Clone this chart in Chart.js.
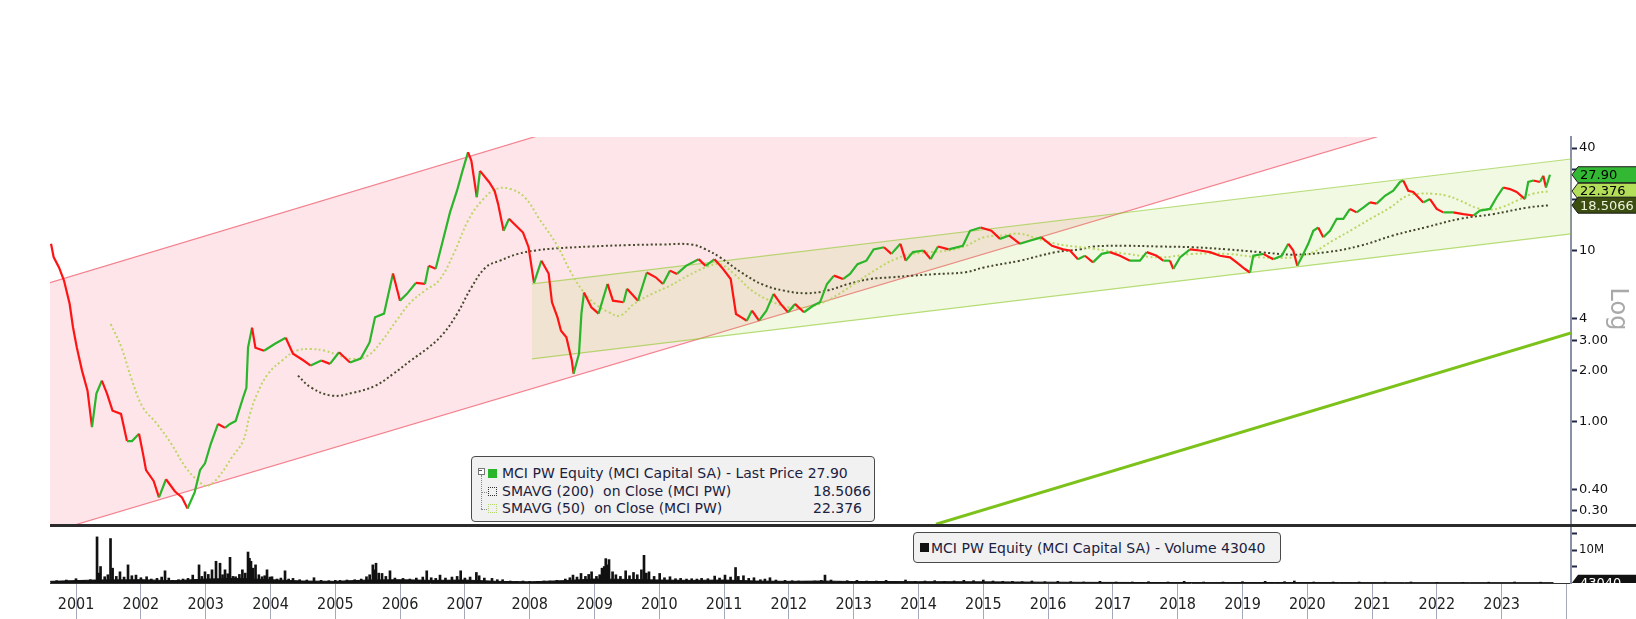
<!DOCTYPE html>
<html>
<head>
<meta charset="utf-8">
<script src="https://cdn.jsdelivr.net/npm/chart.js@4.4.1/dist/chart.umd.min.js"></script>
<style>
body { margin:0; background:#fff; width:1636px; height:619px; overflow:hidden; position:relative; font-family:"DejaVu Sans", sans-serif; }
#pc { position:absolute; left:0; top:0; }
#vc { position:absolute; left:0; top:527px; }
.lg { position:absolute; background:#f1f1f1; border:1px solid #4a4a4a; border-radius:4px; color:#1c2140; font-size:14px; box-sizing:border-box; }
.lg span { position:absolute; white-space:pre; line-height:16px; }
.sq { width:9px; height:9px; }
.dsq { width:7px; height:7px; border:1px dotted #333; }
</style>
</head>
<body>
<canvas id="pc" width="1636" height="527"></canvas>
<canvas id="vc" width="1636" height="92"></canvas>
<div id="lg1" class="lg" style="left:471px;top:456px;width:404px;height:66px"></div>
<div id="lg2" class="lg" style="left:913px;top:532px;width:368px;height:31px"></div>
<script>
// price (decimal years / close)
var priceYears = [2001.113,2001.153,2001.236,2001.313,2001.400,2001.452,2001.511,2001.591,2001.676,2001.745,2001.813,2001.897,2001.977,
  2002.062,2002.193,2002.285,2002.363,2002.471,2002.532,2002.579,2002.696,2002.779,2002.887,2003.026,2003.134,2003.219,2003.329,2003.412,
  2003.489,2003.577,2003.690,2003.798,2003.875,2003.963,2004.076,2004.128,2004.153,2004.215,2004.267,2004.400,2004.569,2004.735,2004.847,
  2005.011,2005.120,2005.285,2005.418,2005.557,2005.727,2005.892,2006.029,2006.113,2006.252,2006.390,2006.498,2006.606,2006.745,2006.884,
  2006.940,2007.049,2007.160,2007.270,2007.378,2007.463,2007.548,2007.600,2007.684,2007.733,2007.872,2007.958,2008.011,2008.097,2008.181,
  2008.258,2008.397,2008.483,2008.566,2008.681,2008.792,2008.844,2008.929,2008.983,2009.066,2009.150,2009.177,2009.261,2009.298,2009.338,
  2009.452,2009.563,2009.701,2009.785,2009.949,2010.002,2010.171,2010.307,2010.444,2010.557,2010.665,2010.773,2010.912,2011.106,2011.216,
  2011.353,2011.465,2011.602,2011.684,2011.767,2011.850,2011.931,2012.039,2012.153,2012.264,2012.373,2012.486,2012.594,2012.733,2012.872,
  2012.980,2013.088,2013.196,2013.335,2013.443,2013.559,2013.696,2013.807,2013.968,2014.082,2014.221,2014.302,2014.415,2014.579,2014.688,
  2014.801,2014.965,2015.185,2015.295,2015.460,2015.625,2015.758,2015.897,2016.066,2016.231,2016.397,2016.560,2016.730,2016.838,2016.961,
  2017.069,2017.193,2017.327,2017.455,2017.610,2017.764,2017.918,2018.022,2018.176,2018.278,2018.381,2018.432,2018.536,2018.690,2018.844,
  2018.998,2019.153,2019.307,2019.410,2019.539,2019.616,2019.667,2019.821,2019.975,2020.105,2020.207,2020.284,2020.346,2020.414,2020.515,
  2020.593,2020.670,2020.747,2020.850,2020.954,2021.056,2021.159,2021.262,2021.364,2021.468,2021.571,2021.699,2021.827,2021.931,2021.981,
  2022.059,2022.136,2022.213,2022.290,2022.394,2022.497,2022.599,2022.753,2022.907,2023.062,2023.165,2023.319,2023.423,2023.525,2023.628,
  2023.731,2023.860,2023.910,2023.988,2024.091,2024.142,2024.184,2024.245];
var priceClose = [11.0,9.2,8.0,6.7,4.9,3.57,2.72,1.99,1.52,0.93,1.46,1.74,1.46,
  1.16,1.11,0.77,0.77,0.85,0.65,0.52,0.45,0.36,0.46,0.39,0.36,0.31,0.385,0.52,
  0.57,0.74,0.97,0.92,0.97,1.01,1.38,1.58,2.71,3.55,2.71,2.6,2.86,3.1,2.5,
  2.28,2.13,2.28,2.18,2.55,2.22,2.34,2.91,4.08,4.29,7.36,5.11,5.6,6.5,6.4,
  8.17,7.86,11.5,16.8,22.5,29.4,37.8,33.7,20.6,29.4,25.3,22.5,18.9,13.1,15.4,
  14.4,12.8,10.5,6.5,8.76,7.36,5.0,4.08,3.41,3.12,2.28,1.91,2.5,4.29,5.7,
  4.67,4.29,6.4,5.11,5.0,6.0,5.11,7.47,7.0,6.4,7.66,7.33,8.17,8.94,8.17,
  8.94,8.0,6.84,4.27,4.08,3.9,4.47,3.9,4.47,5.6,4.89,4.37,4.89,4.37,4.77,
  5.0,6.4,7.16,6.84,7.33,8.36,8.76,10.2,10.5,9.6,11.0,8.76,9.83,10.05,8.94,
  10.6,10.2,10.7,13.1,13.7,13.1,11.75,12.3,11.0,11.5,12.0,10.7,10.2,10.05,8.94,
  9.36,8.56,9.6,9.83,9.36,8.76,8.76,9.83,9.36,8.76,8.76,7.83,9.16,10.2,10.05,
  9.83,9.36,9.16,8.56,7.83,7.47,9.36,9.6,8.94,9.36,11.0,10.05,8.17,9.16,11.0,
  13.1,13.7,12.0,13.1,15.4,15.4,17.6,16.8,17.9,19.2,18.9,21.0,22.5,25.3,25.8,
  22.5,22.1,20.6,19.2,20.1,17.6,16.8,16.8,16.4,16.1,17.2,17.6,20.6,23.5,23.0,
  22.1,20.1,25.3,25.8,25.3,27.5,23.5,27.9];

var sma50Years = [2002.034,2002.199,2002.363,2002.532,2002.748,2002.971,2003.191,2003.412,2003.520,2003.690,2003.906,2004.076,2004.184,
  2004.292,2004.460,2004.678,2004.900,2005.120,2005.341,2005.557,2005.782,2006.005,2006.221,2006.443,2006.664,2006.884,2007.100,2007.326,
  2007.548,2007.764,2007.986,2008.207,2008.427,2008.643,2008.921,2009.122,2009.315,2009.508,2009.724,2009.894,2010.110,2010.387,2010.665,
  2010.943,2011.216,2011.437,2011.653,2011.931,2012.208,2012.486,2012.759,2013.035,2013.310,2013.582,2013.860,2014.137,2014.415,2014.688,
  2014.965,2015.233,2015.511,2015.789,2016.066,2016.344,2016.617,2016.915,2017.193,2017.718,2018.227,2018.736,2019.261,2019.770,2020.279,
  2020.588,2020.897,2021.205,2021.514,2021.776,2022.039,2022.239,2022.440,2022.656,2022.857,2023.119,2023.319,2023.520,2023.736,2023.983,2024.245];
var sma50 = [3.73,2.72,1.74,1.21,0.97,0.74,0.54,0.44,0.42,0.47,0.62,0.77,1.11,
  1.45,1.90,2.28,2.6,2.66,2.6,2.44,2.33,2.44,2.98,3.9,5.0,5.85,6.7,9.6,
  15.0,19.7,23.0,23.0,20.5,15.5,10.8,7.66,5.85,4.89,4.37,4.17,4.89,5.6,6.25,
  7.16,8.0,8.36,7.33,5.85,5.11,4.67,4.67,5.0,5.7,6.7,7.83,8.94,9.6,9.83,
  10.05,10.7,12.0,12.3,12.6,11.75,11.0,10.6,10.3,9.6,9.16,9.6,9.6,9.16,9.16,
  9.83,11.5,13.4,15.7,17.9,21.0,21.6,21.6,21.0,19.7,17.8,17.4,18.1,19.7,21.6,22.376];

var sma200Years = [2004.924,2005.120,2005.449,2005.782,2006.113,2006.390,2006.664,2006.940,2007.162,2007.378,2007.600,2007.821,2008.042,
  2008.319,2008.593,2008.921,2009.446,2010.002,2010.557,2010.995,2011.216,2011.437,2011.767,2012.100,2012.424,2012.759,2013.088,2013.421,
  2013.752,2014.082,2014.415,2014.739,2015.233,2015.511,2016.066,2016.617,2016.992,2017.193,2017.718,2018.227,2018.736,2019.261,2019.770,
  2020.279,2020.804,2021.313,2021.823,2022.347,2022.857,2023.366,2023.890,2024.245];
var sma200 = [1.86,1.59,1.42,1.48,1.62,1.9,2.28,2.72,3.26,4.27,6.1,8.0,8.76,
  9.6,10.05,10.35,10.6,10.8,10.9,10.9,10.2,9.16,7.47,6.34,5.85,5.65,5.85,6.4,
  6.84,7.0,7.16,7.3,7.5,8.0,8.76,9.83,10.2,10.6,10.7,10.6,10.5,10.2,9.83,
  9.5,9.83,10.7,12.3,13.8,15.4,16.4,17.9,18.5066];

// trend channels: start and end of each line
var pinkYears = [2001.097, 2024.57];
var pinkUpper = [6.51, 3120];
var pinkLower = [0.225, 101.5];
var greenYears = [2008.535, 2024.57];
var greenUpper = [6.40, 34.5];
var greenLower = [2.33, 12.56];
var trendYears = [2014.77, 2024.57];
var trendLine = [0.251, 3.31];

var yTicks = [0.3, 0.4, 1, 2, 3, 4, 10, 20, 30, 40];
var yTickLabels = ["0.30", "0.40", "1.00", "2.00", "3.00", "4", "10", "", "", "40"];
var lastPrice = 27.90, lastSma50 = 22.376, lastSma200 = 18.5066;

var yearTicks = [2001,2002,2003,2004,2005,2006,2007,2008,2009,2010,2011,2012,2013,2014,2015,2016,2017,2018,2019,2020,2021,2022,2023,2024];
var xMin = 2001.097, xMax = 2024.57;

// volume in millions
var volYears = [2001.20,2001.35,2001.498,2001.62,2001.72,2001.823,2001.85,2001.877,2001.941,2001.99,2002.031,2002.063,2002.12,2002.177,
  2002.24,2002.301,2002.36,2002.424,2002.50,2002.588,2002.66,2002.748,2002.82,2002.872,2002.93,2002.992,2003.08,2003.15,2003.227,2003.30,
  2003.397,2003.44,2003.489,2003.54,2003.597,2003.659,2003.721,2003.76,2003.798,2003.84,2003.875,2003.92,2003.961,2004.02,2004.066,2004.11,
  2004.153,2004.175,2004.199,2004.23,2004.269,2004.32,2004.369,2004.41,2004.446,2004.49,2004.523,2004.60,2004.66,2004.724,2004.78,2004.847,
  2004.95,2005.06,2005.171,2005.28,2005.40,2005.50,2005.573,2005.68,2005.80,2005.90,2005.981,2006.03,2006.079,2006.10,2006.128,2006.17,
  2006.221,2006.28,2006.344,2006.42,2006.545,2006.65,2006.75,2006.85,2006.911,2006.98,2007.05,2007.116,2007.20,2007.30,2007.38,2007.435,
  2007.50,2007.58,2007.677,2007.72,2007.80,2007.918,2008.00,2008.082,2008.20,2008.30,2008.397,2008.50,2008.62,2008.72,2008.813,2008.92,
  2009.05,2009.12,2009.168,2009.23,2009.292,2009.36,2009.41,2009.455,2009.53,2009.58,2009.616,2009.65,2009.674,2009.70,2009.724,2009.779,
  2009.83,2009.90,2009.981,2010.04,2010.102,2010.16,2010.224,2010.264,2010.30,2010.341,2010.42,2010.506,2010.58,2010.665,2010.75,2010.829,
  2010.92,2011.00,2011.08,2011.153,2011.25,2011.355,2011.43,2011.514,2011.60,2011.677,2011.72,2011.799,2011.88,2011.961,2012.06,2012.13,
  2012.208,2012.30,2012.440,2012.55,2012.65,2012.764,2012.90,2013.00,2013.057,2013.15,2013.289,2013.40,2013.55,2013.70,2013.85,2014.00,
  2014.15,2014.30,2014.45,2014.60,2014.75,2014.90,2015.05,2015.20,2015.35,2015.50,2015.65,2015.80,2015.95,2016.10,2016.25,2016.45,2016.65,
  2016.85,2017.05,2017.30,2017.55,2017.80,2018.05,2018.35,2018.60,2018.90,2019.20,2019.50,2019.85,2020.15,2020.30,2020.60,2020.90,2021.30,
  2021.70,2022.10,2022.50,2022.90,2023.30,2023.70,2024.10];
var volValues = [0.7,0.9,1.3,0.8,1.0,14.0,3.0,5.0,1.9,2.5,13.5,4.5,2.0,3.4,
  1.8,5.5,2.2,2.4,1.6,1.9,1.2,1.4,1.8,3.7,1.5,0.8,1.0,1.2,1.4,2.4,
  5.5,2.0,3.4,2.6,4.0,6.6,6.0,2.5,4.0,2.8,7.8,2.0,1.9,2.6,4.0,3.0,
  9.4,7.5,6.6,4.5,5.5,2.5,1.9,2.2,4.0,1.8,1.9,1.2,1.5,3.7,1.2,1.4,
  1.0,0.9,1.6,0.8,0.7,0.8,0.8,0.9,1.0,1.2,1.9,2.5,5.5,4.0,6.0,3.0,
  2.9,2.0,3.7,1.5,1.4,1.2,1.5,1.8,3.7,1.6,1.4,2.4,1.5,1.8,2.0,3.7,
  1.5,1.8,3.2,2.2,1.5,1.4,1.0,1.0,0.6,0.5,0.6,0.5,0.5,0.6,0.6,0.8,
  1.2,1.6,2.4,1.8,2.9,2.0,2.6,3.4,2.0,2.5,4.5,5.0,7.4,5.5,7.1,3.4,
  2.5,2.0,3.7,2.2,3.2,2.5,4.0,8.4,3.0,3.4,2.0,2.9,1.6,1.9,1.3,1.4,
  1.2,1.3,1.2,1.4,1.3,2.1,1.5,2.4,1.8,4.7,2.0,2.2,1.4,1.6,1.0,1.2,
  1.6,0.9,0.8,0.7,0.6,0.5,0.6,0.8,2.4,0.9,0.5,0.7,0.8,0.6,0.6,0.8,
  0.5,0.9,0.5,0.6,0.7,0.5,0.6,0.8,0.7,0.9,0.6,0.5,0.5,0.4,0.6,0.4,0.5,
  0.4,0.3,0.5,0.3,0.3,0.4,0.3,0.5,0.3,0.3,0.4,0.5,0.4,0.6,0.3,0.3,0.3,
  0.25,0.3,0.2,0.2,0.25,0.3,0.25];
var floorYears = [2001.10,2001.80,2002.5,2003.0,2003.5,2004.0,2004.5,2005.0,2005.5,2006.0,2006.5,2007.0,2007.5,2008.0,2008.5,2009.0,
  2009.5,2010.0,2010.5,2011.0,2011.5,2012.0,2012.5,2013.0,2013.5,2014.0,2014.5,2015.0,2015.5,2016.0,2016.5,2017.0,2018.0,2019.0,2020.0,
  2021.0,2022.0,2023.0,2024.3];
var floorValues = [0.5,0.9,1.0,0.7,1.2,1.4,1.0,0.6,0.5,0.9,1.0,0.8,0.9,0.5,0.35,0.7,
  1.2,1.1,0.9,0.8,0.9,0.6,0.5,0.6,0.45,0.45,0.4,0.4,0.35,0.3,0.25,0.2,0.15,0.12,0.15,
  0.12,0.1,0.1,0.1];
var volTicks = [5, 10, 15];
var lastVolume = 43040;

var GREEN = "#2ab52a", RED = "#ff1414";

function pts(xs, ys) {
  return xs.map(function (x, i) { return { x: x, y: ys[i] }; });
}
function noPad(s) { s.paddingTop = 0; s.paddingBottom = 0; }

// legends
document.getElementById("lg1").innerHTML =
  '<span style="left:6px;top:11px;width:5px;height:5px;border:1px solid #777;background:#fff"></span>' +
  '<span style="left:7px;top:13px;width:3px;height:0;border-top:1px solid #555"></span>' +
  '<span style="left:9px;top:18px;width:0;height:34px;border-left:1px dotted #888"></span>' +
  '<span style="left:9px;top:35px;width:6px;height:0;border-top:1px dotted #888"></span>' +
  '<span style="left:9px;top:52px;width:6px;height:0;border-top:1px dotted #888"></span>' +
  '<span class="sq" style="left:16px;top:12px;background:' + GREEN + '"></span>' +
  '<span style="left:30px;top:8px">MCI PW Equity (MCI Capital SA) - Last Price ' + lastPrice.toFixed(2) + '</span>' +
  '<span class="dsq" style="left:16px;top:30px;border-color:#333"></span>' +
  '<span style="left:30px;top:26px">SMAVG (200)  on Close (MCI PW)</span>' +
  '<span style="left:341px;top:26px">' + lastSma200 + '</span>' +
  '<span class="dsq" style="left:16px;top:47px;border-color:#b5d66b"></span>' +
  '<span style="left:30px;top:43px">SMAVG (50)  on Close (MCI PW)</span>' +
  '<span style="left:341px;top:43px">' + lastSma50 + '</span>';
document.getElementById("lg2").innerHTML =
  '<span class="sq" style="left:6px;top:10px;background:#111"></span>' +
  '<span style="left:17px;top:7px">MCI PW Equity (MCI Capital SA) - Volume ' + lastVolume + '</span>';

var pricePanelPlugin = {
  id: "pricePanel",
  afterDraw: function (chart) {
    var ctx = chart.ctx, y = chart.scales.y;
    ctx.save();
    // split between panels
    ctx.fillStyle = "#2b2b2b";
    ctx.fillRect(chart.chartArea.left, 524, 1636 - chart.chartArea.left, 3);
    // "Log" title
    ctx.translate(1617, 309);
    ctx.rotate(Math.PI / 2);
    ctx.fillStyle = "#a9a9a9";
    ctx.font = "24px 'DejaVu Sans'";
    ctx.textAlign = "center";
    ctx.textBaseline = "middle";
    ctx.fillText("Log", 0, 0);
    ctx.restore();
    // last value tags
    var tags = [
      { v: lastSma50, bg: "#b2de5a", fg: "#000", t: String(lastSma50) },
      { v: lastPrice, bg: "#33b833", fg: "#000", t: lastPrice.toFixed(2) },
      { v: lastSma200, bg: "#3b4e10", fg: "#eef3dc", t: String(lastSma200) }
    ];
    ctx.save();
    ctx.font = "13px 'DejaVu Sans'";
    ctx.textBaseline = "middle";
    tags.forEach(function (tg) {
      var c = y.getPixelForValue(tg.v), x0 = chart.chartArea.right + 1;
      ctx.beginPath();
      ctx.moveTo(x0, c);
      ctx.lineTo(x0 + 6, c - 8);
      ctx.lineTo(1640, c - 8);
      ctx.lineTo(1640, c + 8);
      ctx.lineTo(x0 + 6, c + 8);
      ctx.closePath();
      ctx.fillStyle = tg.bg;
      ctx.fill();
      ctx.strokeStyle = "#1a1a1a";
      ctx.lineWidth = 1;
      ctx.stroke();
      ctx.fillStyle = tg.fg;
      ctx.fillText(tg.t, x0 + 8, c + 1);
    });
    ctx.restore();
  }
};

new Chart(document.getElementById("pc"), {
  type: "line",
  data: {
    datasets: [
      { data: pts(pinkYears, pinkUpper), borderColor: "#f4828f", borderWidth: 1.2, pointRadius: 0,
        fill: { target: "+1" }, backgroundColor: "rgba(250,110,140,0.18)", order: 7 },
      { data: pts(pinkYears, pinkLower), borderColor: "#f4828f", borderWidth: 1.2, pointRadius: 0, fill: false, order: 6 },
      { data: pts(greenYears, greenUpper), borderColor: "rgba(140,200,40,0.6)", borderWidth: 1.2, pointRadius: 0,
        fill: { target: "+1" }, backgroundColor: "rgba(160,210,60,0.14)", order: 5 },
      { data: pts(greenYears, greenLower), borderColor: "rgba(140,200,40,0.6)", borderWidth: 1.2, pointRadius: 0, fill: false, order: 4 },
      { data: pts(trendYears, trendLine), borderColor: "#7cc21b", borderWidth: 3, pointRadius: 0, fill: false, order: 3 },
      { data: pts(sma200Years, sma200), borderColor: "#45482a", borderWidth: 2, borderDash: [2, 2.5], pointRadius: 0,
        fill: false, tension: 0.4, order: 2 },
      { data: pts(sma50Years, sma50), borderColor: "#bcd766", borderWidth: 2, borderDash: [2, 2.5], pointRadius: 0,
        fill: false, tension: 0.4, order: 1 },
      { data: pts(priceYears, priceClose), borderWidth: 2.2, pointRadius: 0, fill: false, order: 0,
        borderColor: GREEN,
        segment: { borderColor: function (c) { return c.p1.parsed.y >= c.p0.parsed.y ? GREEN : RED; } } }
    ]
  },
  options: {
    responsive: false,
    animation: false,
    devicePixelRatio: 1,
    layout: { padding: { left: 50, top: 137, right: 0, bottom: 3 } },
    plugins: { legend: { display: false }, tooltip: { enabled: false } },
    scales: {
      x: { type: "linear", min: xMin, max: xMax, display: false },
      y: {
        type: "logarithmic", position: "right", min: 0.2517, max: 46.4,
        afterBuildTicks: function (s) { s.ticks = yTicks.map(function (v) { return { value: v }; }); },
        afterFit: function (s) { s.width = 65; noPad(s); },
        grid: { drawOnChartArea: false, drawTicks: true, tickLength: 6, tickColor: "#1f2746", tickWidth: 2 },
        border: { color: "#8a90a6", width: 2 },
        ticks: {
          padding: 2, color: "#111", font: { size: 13, family: "DejaVu Sans" }, autoSkip: false,
          callback: function (v) { var i = yTicks.indexOf(v); return i >= 0 ? yTickLabels[i] : ""; }
        }
      }
    }
  },
  plugins: [pricePanelPlugin]
});

var volumePanelPlugin = {
  id: "volumePanel",
  afterDraw: function (chart) {
    var ctx = chart.ctx, a = chart.chartArea, y = chart.scales.y;
    var c = y.getPixelForValue(lastVolume / 1e6);
    ctx.save();
    ctx.beginPath();
    ctx.rect(a.right, 0, 1636 - a.right, a.bottom);
    ctx.clip();
    ctx.beginPath();
    ctx.moveTo(a.right + 1, c);
    ctx.lineTo(a.right + 7, c - 8);
    ctx.lineTo(1640, c - 8);
    ctx.lineTo(1640, c + 8);
    ctx.lineTo(a.right + 7, c + 8);
    ctx.closePath();
    ctx.fillStyle = "#111";
    ctx.fill();
    ctx.fillStyle = "#fff";
    ctx.font = "13px 'DejaVu Sans'";
    ctx.textBaseline = "middle";
    ctx.fillText(String(lastVolume), a.right + 9, c + 1);
    ctx.restore();
  }
};

new Chart(document.getElementById("vc"), {
  type: "bar",
  data: {
    datasets: [
      { type: "line", data: pts(floorYears, floorValues), borderColor: "#111", borderWidth: 1, pointRadius: 0,
        fill: "origin", backgroundColor: "#111", order: 1 },
      { type: "bar", data: pts(volYears, volValues), backgroundColor: "#111", barThickness: 2, order: 0 }
    ]
  },
  options: {
    responsive: false,
    animation: false,
    devicePixelRatio: 1,
    layout: { padding: { left: 50, top: 1, right: 0, bottom: 0 } },
    plugins: { legend: { display: false }, tooltip: { enabled: false } },
    scales: {
      x: {
        type: "linear", min: xMin, max: xMax, offset: false,
        afterBuildTicks: function (s) { s.ticks = yearTicks.map(function (v) { return { value: v }; }); },
        afterFit: function (s) { s.height = 36; s.paddingLeft = 0; s.paddingRight = 0; },
        grid: {
          drawOnChartArea: false, drawTicks: true, tickLength: 36,
          color: function (c) { return c.tick && c.tick.value < xMin ? "rgba(0,0,0,0)" : "#a3a9b8"; }
        },
        border: { color: "#333", width: 1 },
        ticks: {
          autoSkip: false, maxRotation: 0, padding: -24, labelOffset: 32.4,
          color: "#222", font: { size: 16, family: "DejaVu Sans Condensed" },
          callback: function (v) { return v < 2024 ? String(v) : ""; }
        }
      },
      y: {
        position: "right", min: 0, max: 16.7,
        afterBuildTicks: function (s) { s.ticks = volTicks.map(function (v) { return { value: v }; }); },
        afterFit: function (s) { s.width = 65; noPad(s); },
        grid: { drawOnChartArea: false, drawTicks: true, tickLength: 6, tickColor: "#1f2746", tickWidth: 2 },
        border: { color: "#8a90a6", width: 2 },
        ticks: {
          padding: 2, color: "#111", font: { size: 13, family: "DejaVu Sans Condensed" }, autoSkip: false,
          callback: function (v) { return v === 10 ? "10M" : ""; }
        }
      }
    }
  },
  plugins: [volumePanelPlugin]
});
</script>
</body>
</html>
